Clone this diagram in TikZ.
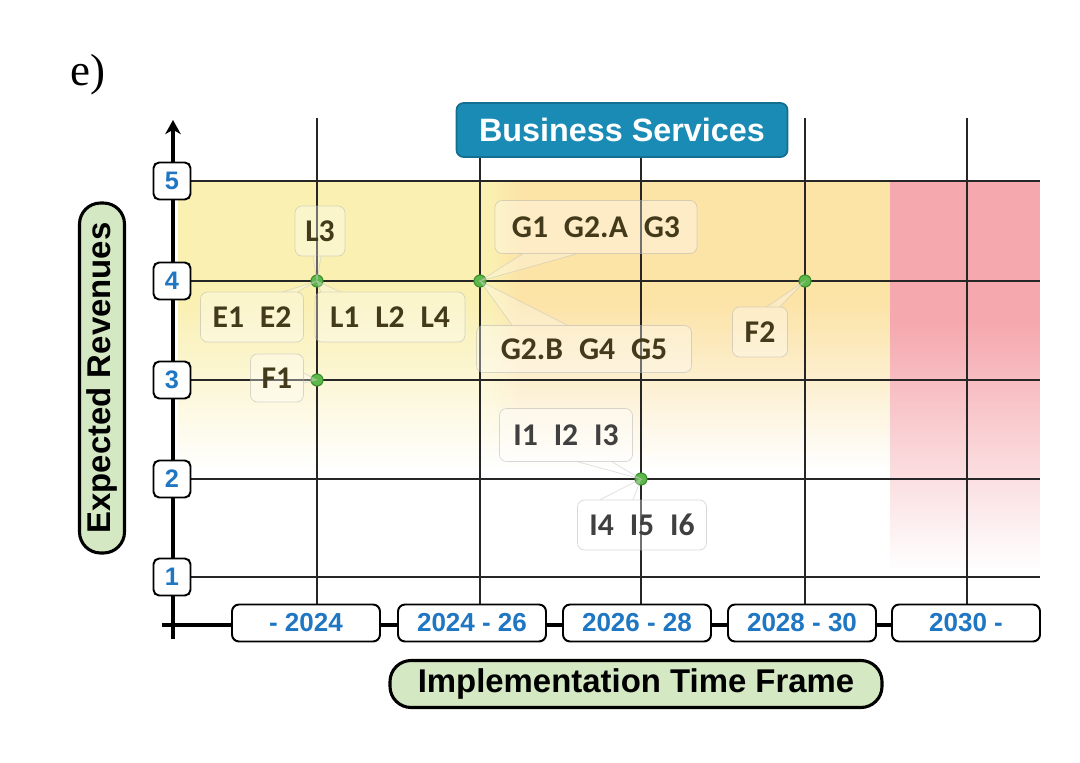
\documentclass[tikz,border=0pt]{standalone}
\usepackage{fontspec}
\setmainfont{Liberation Serif}
\setsansfont{Liberation Sans}
\newfontfamily\callfont{Carlito}
\usetikzlibrary{arrows.meta,fadings}

\newdimen\pxu \pxu=0.025cm
\definecolor{tickblue}{HTML}{1F76C2}
\definecolor{bizblue}{HTML}{1A8BB4}
\definecolor{bizedge}{HTML}{136E8F}
\definecolor{pillgreen}{HTML}{D3E8C3}
\definecolor{dotgreen}{HTML}{5DB84A}
\definecolor{dotedge}{HTML}{3C8F2E}
\definecolor{calltext}{HTML}{423A1A}
\definecolor{zoneyellow}{HTML}{FAF0B2}
\definecolor{zoneorange}{HTML}{FCE3A6}
\definecolor{zonepink}{HTML}{F5A8AE}
\tikzfading[name=fadedown, top color=transparent!100, bottom color=transparent!0]

\begin{document}
\begin{tikzpicture}[
                x=0.025cm, y=-0.025cm,
                font=\sffamily,
                >={Stealth[length=10pt, width=11pt, inset=3pt]},
                % Linee della griglia
                gridline/.style={line width=1.8pt, black!85},
                axis/.style={line width=2.2pt, black},
                % Riquadri dei livelli (asse verticale)
                levelbox/.style={
                    draw,
                    line width=1.4pt,
                    rounded corners=4pt,
                    fill=white,
                    minimum size=37\pxu,
                    inner sep=0pt,
                    text=tickblue,
                    font=\sffamily\bfseries\fontsize{18}{18}\selectfont
                },
                % Riquadri degli anni (asse orizzontale)
                yearbox/.style={
                    draw,
                    line width=1.4pt,
                    rounded corners=5pt,
                    fill=white,
                    minimum width=148\pxu,
                    minimum height=37\pxu,
                    inner sep=0pt,
                    text=tickblue,
                    font=\sffamily\bfseries\fontsize{18.5}{18.5}\selectfont
                },
                % Etichette degli assi
                pill/.style={
                    draw,
                    line width=2.2pt,
                    rounded corners=15pt,
                    fill=pillgreen,
                    inner sep=0pt,
                    font=\sffamily\bfseries\fontsize{23.4}{23.4}\selectfont
                },
                % Fumetti con i codici
                callout/.style={
                    draw=black!30,
                    draw opacity=0.5,
                    line width=0.5pt,
                    fill=white,
                    fill opacity=0.35,
                    text opacity=1,
                    rounded corners=5pt,
                    inner sep=0pt,
                    text=calltext,
                    font=\callfont\bfseries\fontsize{22.5}{22.5}\selectfont
                },
                wedge/.style={draw=black!25, draw opacity=0.5, line width=0.5pt,
                    fill=white, fill opacity=0.3},
                dot/.style={circle, fill=dotgreen, draw=dotedge, line width=0.8pt,
                    minimum size=12\pxu, inner sep=0pt}
            ]

                \useasboundingbox (0,0) rectangle (1080,763);

                % --- Zone colorate di sfondo ---
                \fill[zoneyellow] (178,181) rectangle (490,568);
                \shade[left color=zoneyellow, right color=zoneorange] (490,181) rectangle (520,568);
                \fill[zoneorange] (520,181) rectangle (890,568);
                \fill[zonepink] (890,181) rectangle (1040,568);
                % sfumatura verso il bianco
                \fill[white, path fading=fadedown] (178,300) rectangle (890,470);
                \fill[white] (178,469) rectangle (890,569);
                \fill[white, path fading=fadedown] (890,320) rectangle (1040,569);

                % --- Griglia ---
                \foreach \x in {317,480,641,805,967}
                    \draw[gridline] (\x,118) -- (\x,605);
                \foreach \lv/\y in {1/577,2/479,3/380,4/281,5/181}
                    \draw[gridline] (172,\y) -- (1040,\y);

                % --- Assi ---
                \draw[axis, ->] (173,639) -- (173,120);
                \draw[axis] (162,625) -- (1040,625);

                % --- Livelli ---
                \foreach \lv/\y in {1/577,2/479,3/380,4/281,5/181}
                    \node[levelbox] (lv\lv) at (172,\y) {\lv};

                % --- Periodi ---
                \node[yearbox] (t1) at (306,623) {- 2024};
                \node[yearbox] (t2) at (472,623) {2024 - 26};
                \node[yearbox] (t3) at (637,623) {2026 - 28};
                \node[yearbox] (t4) at (802,623) {2028 - 30};
                \node[yearbox] (t5) at (966,623) {2030 -};

                % --- Titolo e etichette ---
                \node[font=\rmfamily\fontsize{32}{32}\selectfont] (tag) at (88,75) {e)};
                \node[draw=bizedge, line width=1.2pt, fill=bizblue, rounded corners=5pt,
                      minimum width=331\pxu, minimum height=54\pxu, text=white,
                      font=\sffamily\bfseries\fontsize{23}{23}\selectfont] (biz) at (622,130) {Business Services};
                \node[pill, minimum width=350\pxu, minimum height=45\pxu, rotate=90] (ylab) at (102,378) {Expected Revenues};
                \node[pill, minimum width=492\pxu, minimum height=47\pxu] (xlab) at (636,684) {Implementation Time Frame};

                % --- Punti ---
                \node[dot] (d1) at (317,281) {};
                \node[dot] (d2) at (480,281) {};
                \node[dot] (d3) at (805,281) {};
                \node[dot] (d4) at (317,380) {};
                \node[dot] (d5) at (641,479) {};

                % --- Fumetti ---
                \node[callout, minimum width=50\pxu, minimum height=50\pxu] (l3) at (320,231) {L3};
                \node[callout, minimum width=103\pxu, minimum height=50\pxu] (e12) at (252,317) {E1\enspace E2};
                \node[callout, minimum width=150\pxu, minimum height=50\pxu] (l124) at (390,317) {L1\enspace L2\enspace L4};
                \node[callout, minimum width=53\pxu, minimum height=48\pxu] (f1) at (277,378) {F1};
                \node[callout, minimum width=202\pxu, minimum height=53\pxu] (g13) at (596,227) {G1\enspace G2.A\enspace G3};
                \node[callout, minimum width=215\pxu, minimum height=47\pxu] (g245) at (584,349) {G2.B\enspace G4\enspace G5};
                \node[callout, minimum width=55\pxu, minimum height=50\pxu] (f2) at (760,332) {F2};
                \node[callout, minimum width=133\pxu, minimum height=53\pxu, text=black!75] (i13) at (566,435) {I1\enspace I2\enspace I3};
                \node[callout, minimum width=129\pxu, minimum height=50\pxu, text=black!75] (i456) at (642,525) {I4\enspace I5\enspace I6};

                % punte dei fumetti
                \draw[wedge] ([xshift=-7\pxu]l3.south) -- (d1.center) -- ([xshift=1\pxu]l3.south);
                \draw[wedge] ([xshift=-20\pxu]e12.north east) -- (d1.center) -- ([xshift=-6\pxu]e12.north east);
                \draw[wedge] ([xshift=6\pxu]l124.north west) -- (d1.center) -- ([xshift=25\pxu]l124.north west);
                \draw[wedge] ([yshift=5\pxu]f1.east) -- (d4.center) -- ([yshift=-5\pxu]f1.east);
                \draw[wedge] ([xshift=28\pxu]g13.south west) -- (d2.center) -- ([xshift=82\pxu]g13.south west);
                \draw[wedge] ([xshift=36\pxu]g245.north west) -- (d2.center) -- ([xshift=91\pxu]g245.north west);
                \draw[wedge] ([xshift=7\pxu]f2.north) -- (d3.center) -- ([xshift=20\pxu]f2.north);
                \draw[wedge] ([xshift=12\pxu]i13.south) -- (d5.center) -- ([xshift=46\pxu]i13.south);
                \draw[wedge] ([xshift=-42\pxu]i456.north) -- (d5.center) -- ([xshift=-9\pxu]i456.north);

            \end{tikzpicture}
\end{document}
